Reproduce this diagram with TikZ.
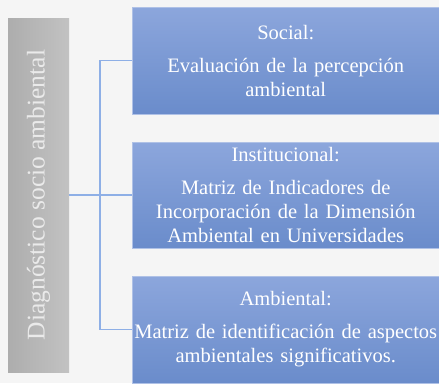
\documentclass[tikz,border=0pt]{standalone}
\usepackage{fontspec}
\setmainfont{Liberation Serif}
\usepackage{tikz}
\usetikzlibrary{positioning, calc, shapes}

\definecolor{fondo}{HTML}{F5F5F5}
\definecolor{azulAlto}{HTML}{8CA6DC}
\definecolor{azulBajo}{HTML}{6A8CCB}
\definecolor{grisAlto}{HTML}{C2C2C2}
\definecolor{grisBajo}{HTML}{ADADAD}
\definecolor{linea}{HTML}{8EAFE6}
\definecolor{textoGris}{HTML}{EAEAEA}

\tikzset{
	caja/.style={rectangle, anchor=west, minimum width=307pt, inner sep=1pt,
		shading=axis, top color=azulAlto, bottom color=azulBajo,
		draw=azulAlto!70!white, line width=0.5pt,
		text=white, text width=303pt, align=center,
		font=\fontsize{20.5}{24}\selectfont},
	conector/.style={draw=linea, line width=1.2pt}
}

\begin{document}
\begin{tikzpicture}[x=1pt,y=-1pt]
		
		%Fondo y marco de la figura
		\fill[fondo] (0,0) rectangle (439,383);
		\useasboundingbox (0,0) rectangle (439,383);
		
		%Bloque vertical y las tres dimensiones
		\node (diagnostico) at (38.5,195) [rectangle, rotate=90, minimum width=354pt, 
		minimum height=61pt, shading=axis, left color=grisBajo, right color=grisAlto, 
		text=textoGris, font=\fontsize{25.5}{28}\selectfont] {Diagnóstico socio ambiental};
		
		\node (social) at (132,60.5) [caja, minimum height=107pt] {Social:\\[9pt]
		Evaluación de la percepción\\ ambiental};
		
		\node (institucional) at (132,195) [caja, minimum height=106pt] {Institucional:\\[9pt]
		Matriz de Indicadores de\\ Incorporación de la Dimensión\\ Ambiental en Universidades};
		
		\node (ambiental) at (132,329.5) [caja, minimum height=107pt] {Ambiental:\\[9pt]
		Matriz de identificación de aspectos\\ ambientales significativos.};
		
		\coordinate (tronco) at (100,195);
		
		\draw[conector] (diagnostico.south) -- (institucional.west);
		\draw[conector] (social.west) -| (tronco) |- (ambiental.west);
		
\end{tikzpicture}
\end{document}
